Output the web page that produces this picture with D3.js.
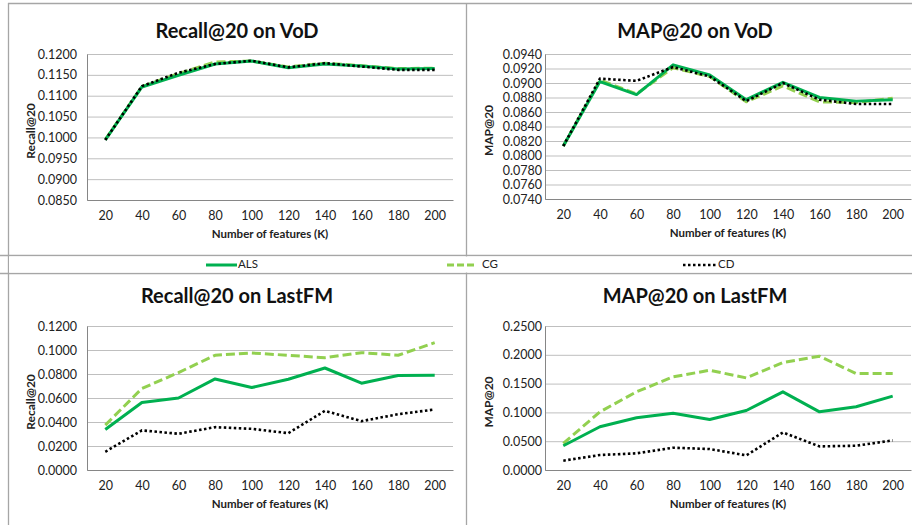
<!DOCTYPE html>
<html>
<head>
<meta charset="utf-8">
<script src="https://cdn.jsdelivr.net/npm/d3@7"></script>
<style>
  body { margin: 0; background: #fff; }
  svg { display: block; font-family: Lato, "Open Sans", sans-serif; }
</style>
</head>
<body>
<svg id="chart" width="912" height="525"></svg>
<script>
// number of features on the x axis
const K = [20, 40, 60, 80, 100, 120, 140, 160, 180, 200];

const recallVodALS = [0.0994, 0.1121, 0.1149, 0.1176, 0.1183, 0.1167, 0.1176, 0.1171, 0.1164, 0.1165];
const recallVodCG  = [0.0995, 0.1122, 0.1153, 0.1181, 0.1183, 0.1169, 0.1178, 0.1172, 0.1165, 0.1166];
const recallVodCD  = [0.0994, 0.1123, 0.1155, 0.1176, 0.1184, 0.1168, 0.1178, 0.1170, 0.1162, 0.1162];

const mapVodALS = [0.0813, 0.0902, 0.0884, 0.0925, 0.0911, 0.0877, 0.0901, 0.0880, 0.0875, 0.0877];
const mapVodCG  = [0.0813, 0.0904, 0.0885, 0.0921, 0.0909, 0.0874, 0.0896, 0.0874, 0.0873, 0.0879];
const mapVodCD  = [0.0813, 0.0906, 0.0903, 0.0922, 0.0909, 0.0875, 0.0900, 0.0877, 0.0871, 0.0871];

const recallFmALS = [0.0338, 0.0562, 0.0600, 0.0759, 0.0687, 0.0756, 0.0850, 0.0723, 0.0787, 0.0789];
const recallFmCG  = [0.0374, 0.0679, 0.0812, 0.0956, 0.0975, 0.0956, 0.0936, 0.0978, 0.0956, 0.1061];
const recallFmCD  = [0.0152, 0.0330, 0.0302, 0.0357, 0.0343, 0.0307, 0.0493, 0.0407, 0.0465, 0.0504];

const mapFmALS = [0.0421, 0.0751, 0.0906, 0.0987, 0.0878, 0.1033, 0.1357, 0.1010, 0.1097, 0.1282];
const mapFmCG  = [0.0462, 0.1010, 0.1357, 0.1617, 0.1732, 0.1599, 0.1865, 0.1975, 0.1674, 0.1674];
const mapFmCD  = [0.0162, 0.0260, 0.0289, 0.0387, 0.0364, 0.0254, 0.0652, 0.0410, 0.0421, 0.0514];

// y tick labels for each panel
const recallVodTicks = [0.0850, 0.0900, 0.0950, 0.1000, 0.1050, 0.1100, 0.1150, 0.1200];
const mapVodTicks = [0.0740, 0.0760, 0.0780, 0.0800, 0.0820, 0.0840, 0.0860, 0.0880, 0.0900, 0.0920, 0.0940];
const recallFmTicks = [0.0000, 0.0200, 0.0400, 0.0600, 0.0800, 0.1000, 0.1200];
const mapFmTicks = [0.0000, 0.0500, 0.1000, 0.1500, 0.2000, 0.2500];

const seriesNames = ['ALS', 'CG', 'CD'];

const STYLE = {
  ALS: { color: '#00B050', dash: null, width: 3 },
  CG: { color: '#92D050', dash: '9,4', width: 3 },
  CD: { color: '#000', dash: '2.5,2.5', width: 2.6 }
};

const panels = [
  { title: 'Recall@20 on VoD', ylab: 'Recall@20', ticks: recallVodTicks,
    series: [recallVodALS, recallVodCG, recallVodCD],
    px: [87, 453], py: [54, 200], tx: 237, ty: 33, ylx: 32, tickGap: 10 },
  { title: 'MAP@20 on VoD', ylab: 'MAP@20', ticks: mapVodTicks,
    series: [mapVodALS, mapVodCG, mapVodCD],
    px: [545, 911], py: [54, 199], tx: 695, ty: 33, ylx: 490, tickGap: 3 },
  { title: 'Recall@20 on LastFM', ylab: 'Recall@20', ticks: recallFmTicks,
    series: [recallFmALS, recallFmCG, recallFmCD],
    px: [87, 453], py: [326, 470], tx: 237, ty: 298, ylx: 32, tickGap: 10 },
  { title: 'MAP@20 on LastFM', ylab: 'MAP@20', ticks: mapFmTicks,
    series: [mapFmALS, mapFmCG, mapFmCD],
    px: [545, 911], py: [326, 470], tx: 695, ty: 298, ylx: 490, tickGap: 3 }
];

const svg = d3.select('#chart');

// panel borders (the picture is a collage of spreadsheet charts)
const border = svg.append('g').attr('stroke', '#a6a6a6').attr('stroke-width', 1.3).attr('fill', 'none');
border.append('line').attr('x1', 8).attr('x2', 912).attr('y1', 3.5).attr('y2', 3.5);
border.append('line').attr('x1', 8.5).attr('x2', 8.5).attr('y1', 3).attr('y2', 525);
border.append('line').attr('x1', 466.5).attr('x2', 466.5).attr('y1', 3).attr('y2', 525);
border.append('line').attr('x1', 0).attr('x2', 912).attr('y1', 255.5).attr('y2', 255.5);
border.append('line').attr('x1', 0).attr('x2', 912).attr('y1', 273.5).attr('y2', 273.5);
// legend strip background covers the divider
svg.append('rect').attr('x', 9).attr('y', 256.5).attr('width', 903).attr('height', 16).attr('fill', '#fff');

function drawPanel(p) {
  const g = svg.append('g');
  const x = d3.scalePoint().domain(K).range(p.px).padding(0.5);
  const y = d3.scaleLinear()
    .domain([p.ticks[0], p.ticks[p.ticks.length - 1]])
    .range([p.py[1], p.py[0]]);

  // gridlines
  g.append('g')
    .attr('transform', `translate(${p.px[0]},0)`)
    .call(d3.axisLeft(y).tickValues(p.ticks).tickSize(-(p.px[1] - p.px[0])).tickFormat(''))
    .call(a => a.select('.domain').remove())
    .call(a => a.selectAll('line').attr('stroke', '#bfbfbf').attr('stroke-width', 1));

  // y axis
  g.append('g')
    .attr('transform', `translate(${p.px[0]},0)`)
    .call(d3.axisLeft(y).tickValues(p.ticks).tickSize(0).tickPadding(p.tickGap).tickFormat(d3.format('.4f')))
    .call(a => a.select('.domain').attr('stroke', '#868686'))
    .call(a => a.selectAll('text').attr('font-size', 12.5).attr('fill', '#222').attr('font-family', 'Lato'));

  // x axis
  g.append('g')
    .attr('transform', `translate(0,${p.py[1]})`)
    .call(d3.axisBottom(x).tickSize(0).tickPadding(11).tickSizeOuter(0))
    .call(a => a.select('.domain').attr('stroke', '#868686'))
    .call(a => a.selectAll('text').attr('font-size', 12.5).attr('fill', '#222').attr('font-family', 'Lato'));

  g.append('text')
    .attr('x', p.tx).attr('y', p.ty)
    .attr('text-anchor', 'middle').attr('dominant-baseline', 'middle')
    .attr('font-size', 20).attr('font-weight', 'bold').attr('fill', '#111')
    .text(p.title);

  g.append('text')
    .attr('x', (p.px[0] + p.px[1]) / 2).attr('y', p.py[1] + 35)
    .attr('text-anchor', 'middle').attr('dominant-baseline', 'middle')
    .attr('font-size', 11.5).attr('font-weight', 'bold').attr('fill', '#222')
    .text('Number of features (K)');

  g.append('text')
    .attr('transform', `translate(${p.ylx},${(p.py[0] + p.py[1]) / 2 + 4}) rotate(-90)`)
    .attr('text-anchor', 'middle').attr('dominant-baseline', 'middle')
    .attr('font-size', 12).attr('font-weight', 'bold').attr('fill', '#222')
    .text(p.ylab);

  const line = d3.line().x((d, i) => x(K[i])).y(d => y(d));
  // draw CG, ALS, CD so the dots stay on top
  [1, 0, 2].forEach(si => {
    const s = STYLE[seriesNames[si]];
    g.append('path')
      .datum(p.series[si])
      .attr('d', line)
      .attr('fill', 'none')
      .attr('stroke', s.color)
      .attr('stroke-width', s.width)
      .attr('stroke-dasharray', s.dash)
      .attr('stroke-linejoin', 'round');
  });
}

panels.forEach(drawPanel);

// legend
const legendPos = [
  { name: 'ALS', x1: 206, x2: 237 },
  { name: 'CG', x1: 447, x2: 474 },
  { name: 'CD', x1: 683, x2: 717 }
];
const lg = svg.append('g');
legendPos.forEach(l => {
  const s = STYLE[l.name];
  lg.append('line')
    .attr('x1', l.x1).attr('x2', l.x2).attr('y1', 265).attr('y2', 265)
    .attr('stroke', s.color).attr('stroke-width', s.width)
    .attr('stroke-dasharray', l.name === 'CG' ? '7,3' : s.dash);
  lg.append('text')
    .attr('x', l.name === 'CG' ? l.x2 + 8 : l.x2 + 1).attr('y', 265)
    .attr('dominant-baseline', 'middle')
    .attr('font-size', 11.5).attr('fill', '#222')
    .text(l.name);
});
</script>
</body>
</html>
